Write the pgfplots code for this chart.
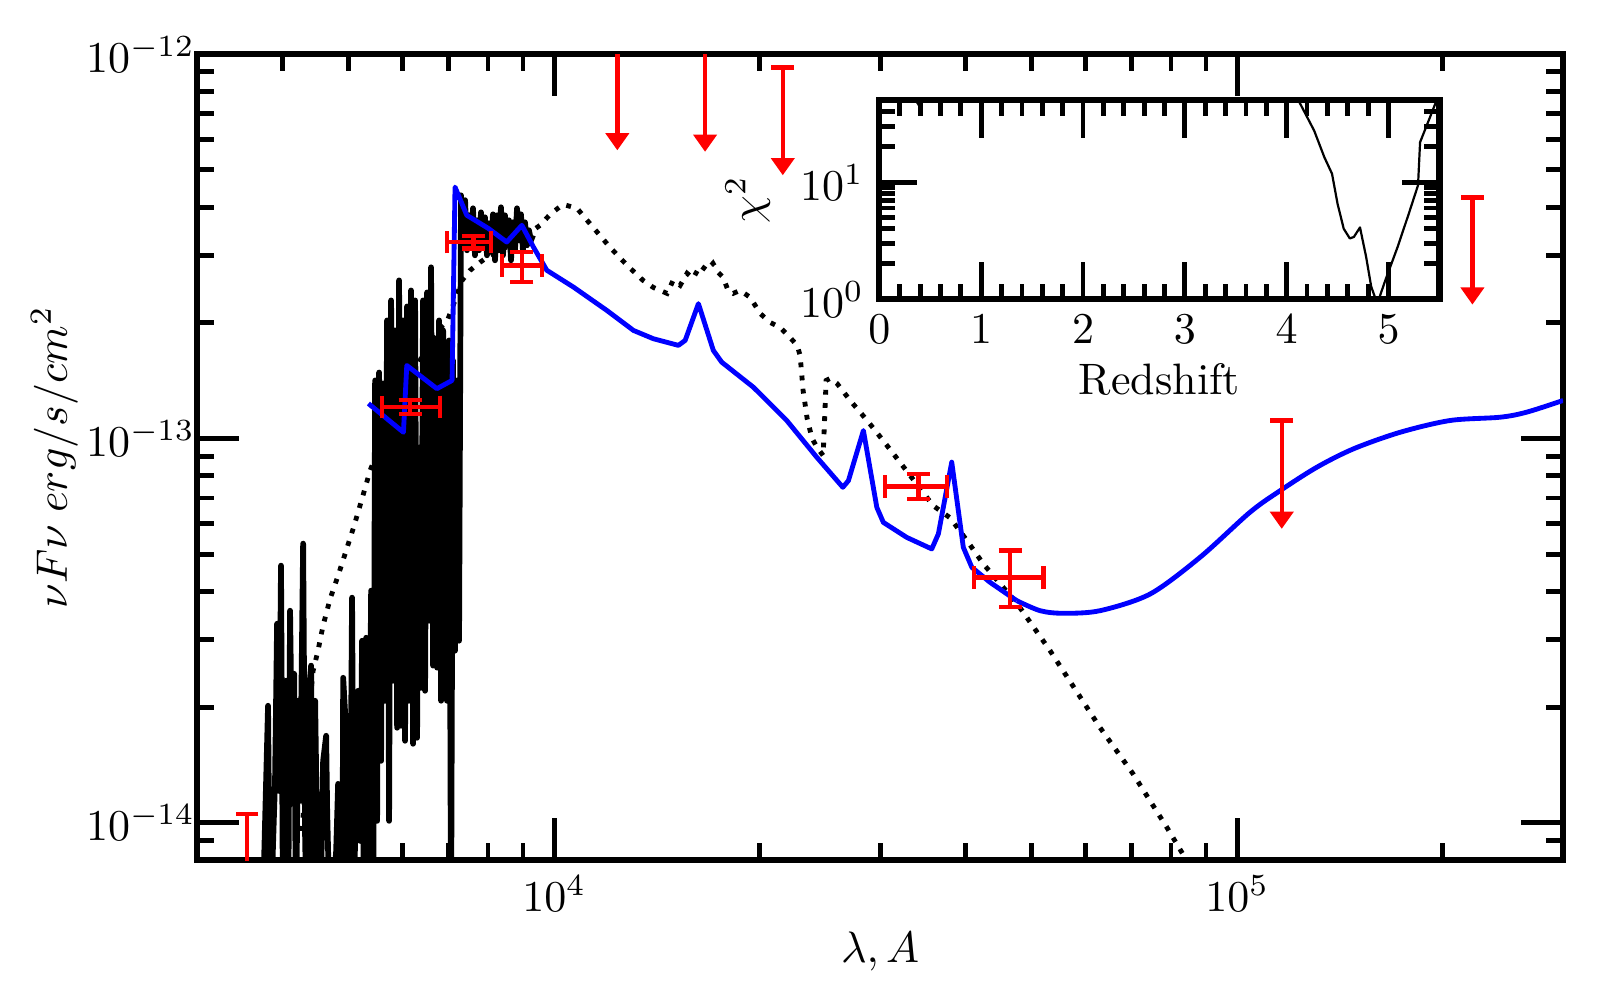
\documentclass[border=0pt]{standalone}
\usepackage{pgfplots}
\pgfplotsset{compat=1.18}
\usetikzlibrary{arrows.meta}

\begin{document}
\begin{tikzpicture}
% fixed page size: 1600x1000 px at 4.4 px/pt
\path[use as bounding box] (-44.8pt,-31.8pt) rectangle (318.9pt,195.5pt);

\begin{axis}[
  at={(0,0)}, anchor=south west,
  scale only axis, width=310.5pt, height=183.2pt,
  xmode=log, ymode=log,
  xmin=3000, xmax=300000, ymin=8e-15, ymax=1e-12,
  xtick={1e4,1e5}, ytick={1e-14,1e-13,1e-12},
  minor xtick={4000,5000,6000,7000,8000,9000,20000,30000,40000,50000,60000,70000,80000,90000,200000},
  minor ytick={9e-15,2e-14,3e-14,4e-14,5e-14,6e-14,7e-14,8e-14,9e-14,2e-13,3e-13,4e-13,5e-13,6e-13,7e-13,8e-13,9e-13},
  tick align=inside,
  major tick length=9.5pt, minor tick length=3.8pt,
  every tick/.append style={black, line width=1.1pt},
  axis line style={line width=1.4pt},
  yticklabel style={xshift=3pt},
  xlabel={$\lambda, A$}, xlabel shift=-2.3pt,
  ylabel={$\nu F\nu\; erg/s/cm^2$}, ylabel shift=-5pt,
]

% observed spectrum
\addplot[black, line width=1.3pt, line join=round] coordinates {
(3735,5e-15) (3811,2.017e-14) (3837,5e-15) (3902,1.286e-14) (3929,3.297e-14)
(3955,1.211e-14) (3981,4.67e-14) (4009,5e-15) (4049,2.343e-14) (4077,5e-15)
(4104,3.565e-14) (4132,1.45e-14) (4161,2.443e-14) (4188,5e-15) (4217,2.078e-14)
(4246,1.141e-14) (4289,5.328e-14) (4318,8.976e-15) (4347,5e-15) (4375,2.206e-14)
(4406,2.565e-14) (4436,5e-15) (4466,2.078e-14) (4496,8.976e-15) (4542,5e-15)
(4588,1.45e-14) (4635,1.685e-14) (4651,1.075e-14) (4698,5e-15) (4794,8.455e-15)
(4826,1.263e-14) (4859,1.19e-14) (4893,5e-15) (4909,2.385e-14) (4942,1.922e-14)
(4976,5e-15) (5026,8.0e-15) (5058,3.855e-14) (5093,5e-15) (5127,1.843e-14)
(5162,2.206e-14) (5197,8.976e-15) (5232,2.978e-14) (5268,5e-15) (5304,3.032e-14)
(5339,5e-15) (5394,4.02e-14) (5430,5e-15) (5467,1.416e-13) (5504,1.012e-14)
(5541,1.485e-13) (5578,1.45e-14) (5617,1.39e-13) (5654,2.078e-14) (5692,2.029e-13)
(5731,1.012e-14) (5770,2.287e-13) (5808,2.343e-14) (5847,1.911e-13) (5888,1.768e-14)
(5927,2.579e-13) (5967,1.789e-14) (6007,2.029e-13) (6048,1.635e-14) (6089,2.206e-13)
(6130,2.078e-14) (6171,2.428e-13) (6214,1.606e-14) (6256,2.287e-13) (6298,1.665e-14)
(6340,9.47e-14) (6383,2.246e-14) (6426,2.287e-13) (6470,2.206e-14) (6514,2.399e-13)
(6558,3.36e-14) (6602,2.789e-13) (6647,2.565e-14) (6693,1.822e-13) (6738,2.534e-14)
(6783,2.029e-13) (6829,2.078e-14) (6876,1.911e-13) (6966,2.078e-14) (7015,1.8e-13)
(7062,5e-15) (7109,1.596e-13) (7157,2.805e-14) (7207,1.416e-13) (7255,2.978e-14)
(7304,4.293e-13) (7353,3.278e-13) (7404,4.17e-13) (7453,3.088e-13) (7503,3.808e-13)
(7553,3.182e-13) (7605,3.972e-13) (7656,2.997e-13) (7707,3.696e-13) (7761,3.088e-13)
(7813,3.877e-13) (7865,3.182e-13) (7918,3.763e-13) (7973,2.997e-13) (8026,3.63e-13)
(8080,3.088e-13) (8134,3.831e-13) (8190,2.908e-13) (8245,3.808e-13) (8300,3.088e-13)
(8356,3.996e-13) (8414,2.997e-13) (8470,3.808e-13) (8527,3.182e-13) (8586,3.696e-13)
(8644,2.908e-13) (8702,3.652e-13) (8760,3.088e-13) (8821,3.972e-13) (8880,3.278e-13)
(8939,3.831e-13) (8999,3.088e-13) (9062,3.652e-13) (9123,3.182e-13) (9184,3.481e-13)
(9246,3.278e-13) (9310,3.378e-13)
};

% template at the alternative redshift (dotted)
\addplot[black, line width=1.1pt, dash pattern=on 1.1pt off 1.9pt] coordinates {
(4274,9.53e-15) (4332,1.366e-14) (4376,1.96e-14) (4436,2.49e-14) (4510,2.81e-14)
(4587,3.26e-14) (4698,3.83e-14) (4826,4.40e-14) (4958,5.11e-14) (5093,5.93e-14)
(5232,6.98e-14) (5376,8.26e-14) (5485,9.04e-14) (5751,1.114e-13) (6048,1.333e-13)
(6362,1.596e-13) (6626,1.853e-13) (6969,2.017e-13) (7158,2.288e-13) (7331,2.579e-13)
(7530,2.738e-13) (7787,2.873e-13) (8054,2.997e-13) (8330,3.088e-13) (8616,3.182e-13)
(8913,3.318e-13) (9218,3.44e-13) (9535,3.587e-13) (9863,3.831e-13) (10300,4.066e-13)
(10800,3.97e-13) (11400,3.543e-13) (12070,3.144e-13) (12790,2.82e-13) (13490,2.579e-13)
(13960,2.473e-13) (14630,2.385e-13) (14930,2.579e-13) (15290,2.503e-13) (15650,2.69e-13)
(15970,2.61e-13) (16360,2.82e-13) (16740,2.738e-13) (17080,2.855e-13) (17380,2.705e-13)
(17670,2.626e-13) (17970,2.428e-13) (18280,2.385e-13) (18710,2.428e-13) (19360,2.33e-13)
(20020,2.115e-13) (20710,2.004e-13) (21420,1.945e-13) (22140,1.832e-13) (22680,1.747e-13)
(22910,1.645e-13) (23140,1.334e-13) (23460,1.127e-13) (23850,1.0e-13) (24270,9.47e-14)
(24760,9.03e-14) (25010,1.416e-13) (25350,1.433e-13) (25950,1.39e-13) (27120,1.256e-13)
(28720,1.114e-13) (30310,9.88e-14) (32100,8.66e-14) (33990,7.59e-14) (35870,6.69e-14)
(37980,6.22e-14) (40230,5.42e-14) (42460,4.725e-14) (44960,4.19e-14) (47610,3.72e-14)
(53210,2.805e-14) (63000,1.768e-14) (70400,1.341e-14) (78980,9.70e-15) (85260,7.73e-15)
};

% best-fit model
\addplot[blue, line width=1.1pt, line join=round] coordinates {
(5345,1.233e-13) (6015,1.038e-13) (6083,1.549e-13) (6733,1.348e-13) (7087,1.416e-13)
(7158,4.51e-13) (7447,3.81e-13) (8010,3.52e-13) (8520,3.245e-13) (8966,3.587e-13)
(9322,3.15e-13) (9752,2.74e-13) (10670,2.477e-13) (11940,2.154e-13) (13060,1.911e-13)
(13970,1.818e-13) (15200,1.747e-13) (15550,1.80e-13) (16260,2.243e-13) (17100,1.695e-13)
(17590,1.58e-13) (19570,1.36e-13) (21900,1.114e-13) (24230,8.94e-14) (26460,7.465e-14)
(26960,7.77e-14) (28360,1.049e-13) (29670,6.62e-14) (30330,6.05e-14) (32820,5.53e-14)
(35710,5.16e-14) (36520,5.65e-14) (38200,8.68e-14) (39720,5.21e-14) (40880,4.62e-14)
(43460,4.225e-14) (47560,3.785e-14)
};
\addplot[blue, line width=1.1pt, smooth] coordinates {
(47560,3.785e-14) (51450,3.565e-14) (55660,3.51e-14) (62970,3.565e-14) (74560,3.94e-14)
(88240,4.91e-14) (104400,6.43e-14) (115600,7.32e-14) (130800,8.42e-14) (148000,9.40e-14)
(173200,1.038e-13) (205000,1.114e-13) (242600,1.136e-13) (265400,1.171e-13) (300000,1.256e-13)
};

% photometry with errors
\addplot[draw=none, mark=none,
  error bars/.cd, x dir=both, x explicit, y dir=both, y explicit,
  error bar style={draw=red, line width=1pt},
  error mark options={draw=red, rotate=90, line width=1pt, mark size=2.6pt}]
coordinates {
(6152,1.208e-13) += (654,5e-15) -= (560,5e-15)
(7613,3.245e-13) += (461,1.2e-14) -= (650,1.2e-14)
(8966,2.82e-13) += (625,2.36e-14) -= (586,2.67e-14)
(34140,7.50e-14) += (3420,5.9e-15) -= (3630,5.3e-15)
(46500,4.35e-14) += (5530,7.6e-15) -= (5310,7.0e-15)
};

% upper limits
\addplot[red, line width=1pt, -{Triangle[length=3.9pt,width=5.2pt]}] coordinates {(12370,1.2e-12) (12370,5.62e-13)};
\addplot[red, line width=1pt, -{Triangle[length=3.9pt,width=5.2pt]}] coordinates {(16630,1.2e-12) (16630,5.57e-13)};
\addplot[red, line width=1pt, -{Triangle[length=3.9pt,width=5.2pt]}] coordinates {(21610,9.23e-13) (21610,4.84e-13)};
\addplot[red, line width=1pt, -{Triangle[length=3.9pt,width=5.2pt]}] coordinates {(116200,1.114e-13) (116200,5.82e-14)};
\addplot[red, line width=1pt, -{Triangle[length=3.9pt,width=5.2pt]}] coordinates {(221000,4.24e-13) (221000,2.23e-13)};
\addplot[red, line width=1pt, -{Triangle[length=3.9pt,width=5.2pt]}] coordinates {(3550,1.054e-14) (3550,5.5e-15)};
\addplot[red, only marks, mark=-, mark size=2.6pt, mark options={line width=1pt}] coordinates {
(21610,9.23e-13) (116200,1.114e-13) (221000,4.24e-13) (3550,1.054e-14)
};
\end{axis}

% inset: chi^2 against redshift
\begin{axis}[
  at={(155.1pt,127.5pt)}, anchor=south west,
  scale only axis, width=127.3pt, height=45.2pt,
  ymode=log, xmin=0, xmax=5.5, ymin=1, ymax=50,
  xtick={0,1,2,3,4,5}, minor x tick num=4,
  ytick={1,10}, minor ytick={2,3,4,5,6,7,8,9,20,30,40,50},
  axis background/.style={fill=white},
  tick align=inside,
  major tick length=8.5pt, minor tick length=3.5pt,
  every tick/.append style={black, line width=1.1pt},
  axis line style={line width=1.4pt},
  xlabel={Redshift}, xlabel shift=-2.3pt,
  ylabel={$\chi^2$},
]
\addplot[black, line width=0.5pt, line join=round] coordinates {
(0.30,60) (0.39,45) (0.47,60) (4.08,60) (4.115,50) (4.27,27.5) (4.37,16.3) (4.445,11.8)
(4.50,6.5) (4.56,4.0) (4.62,3.3) (4.66,3.4) (4.72,4.1) (4.78,2.3) (4.83,1.28) (4.87,1.02)
(4.90,0.97) (4.97,1.46) (5.09,2.8) (5.20,5.4) (5.29,9.4) (5.31,21.9) (5.40,34.5) (5.47,49.4) (5.5,56)
};
\end{axis}
\end{tikzpicture}
\end{document}
